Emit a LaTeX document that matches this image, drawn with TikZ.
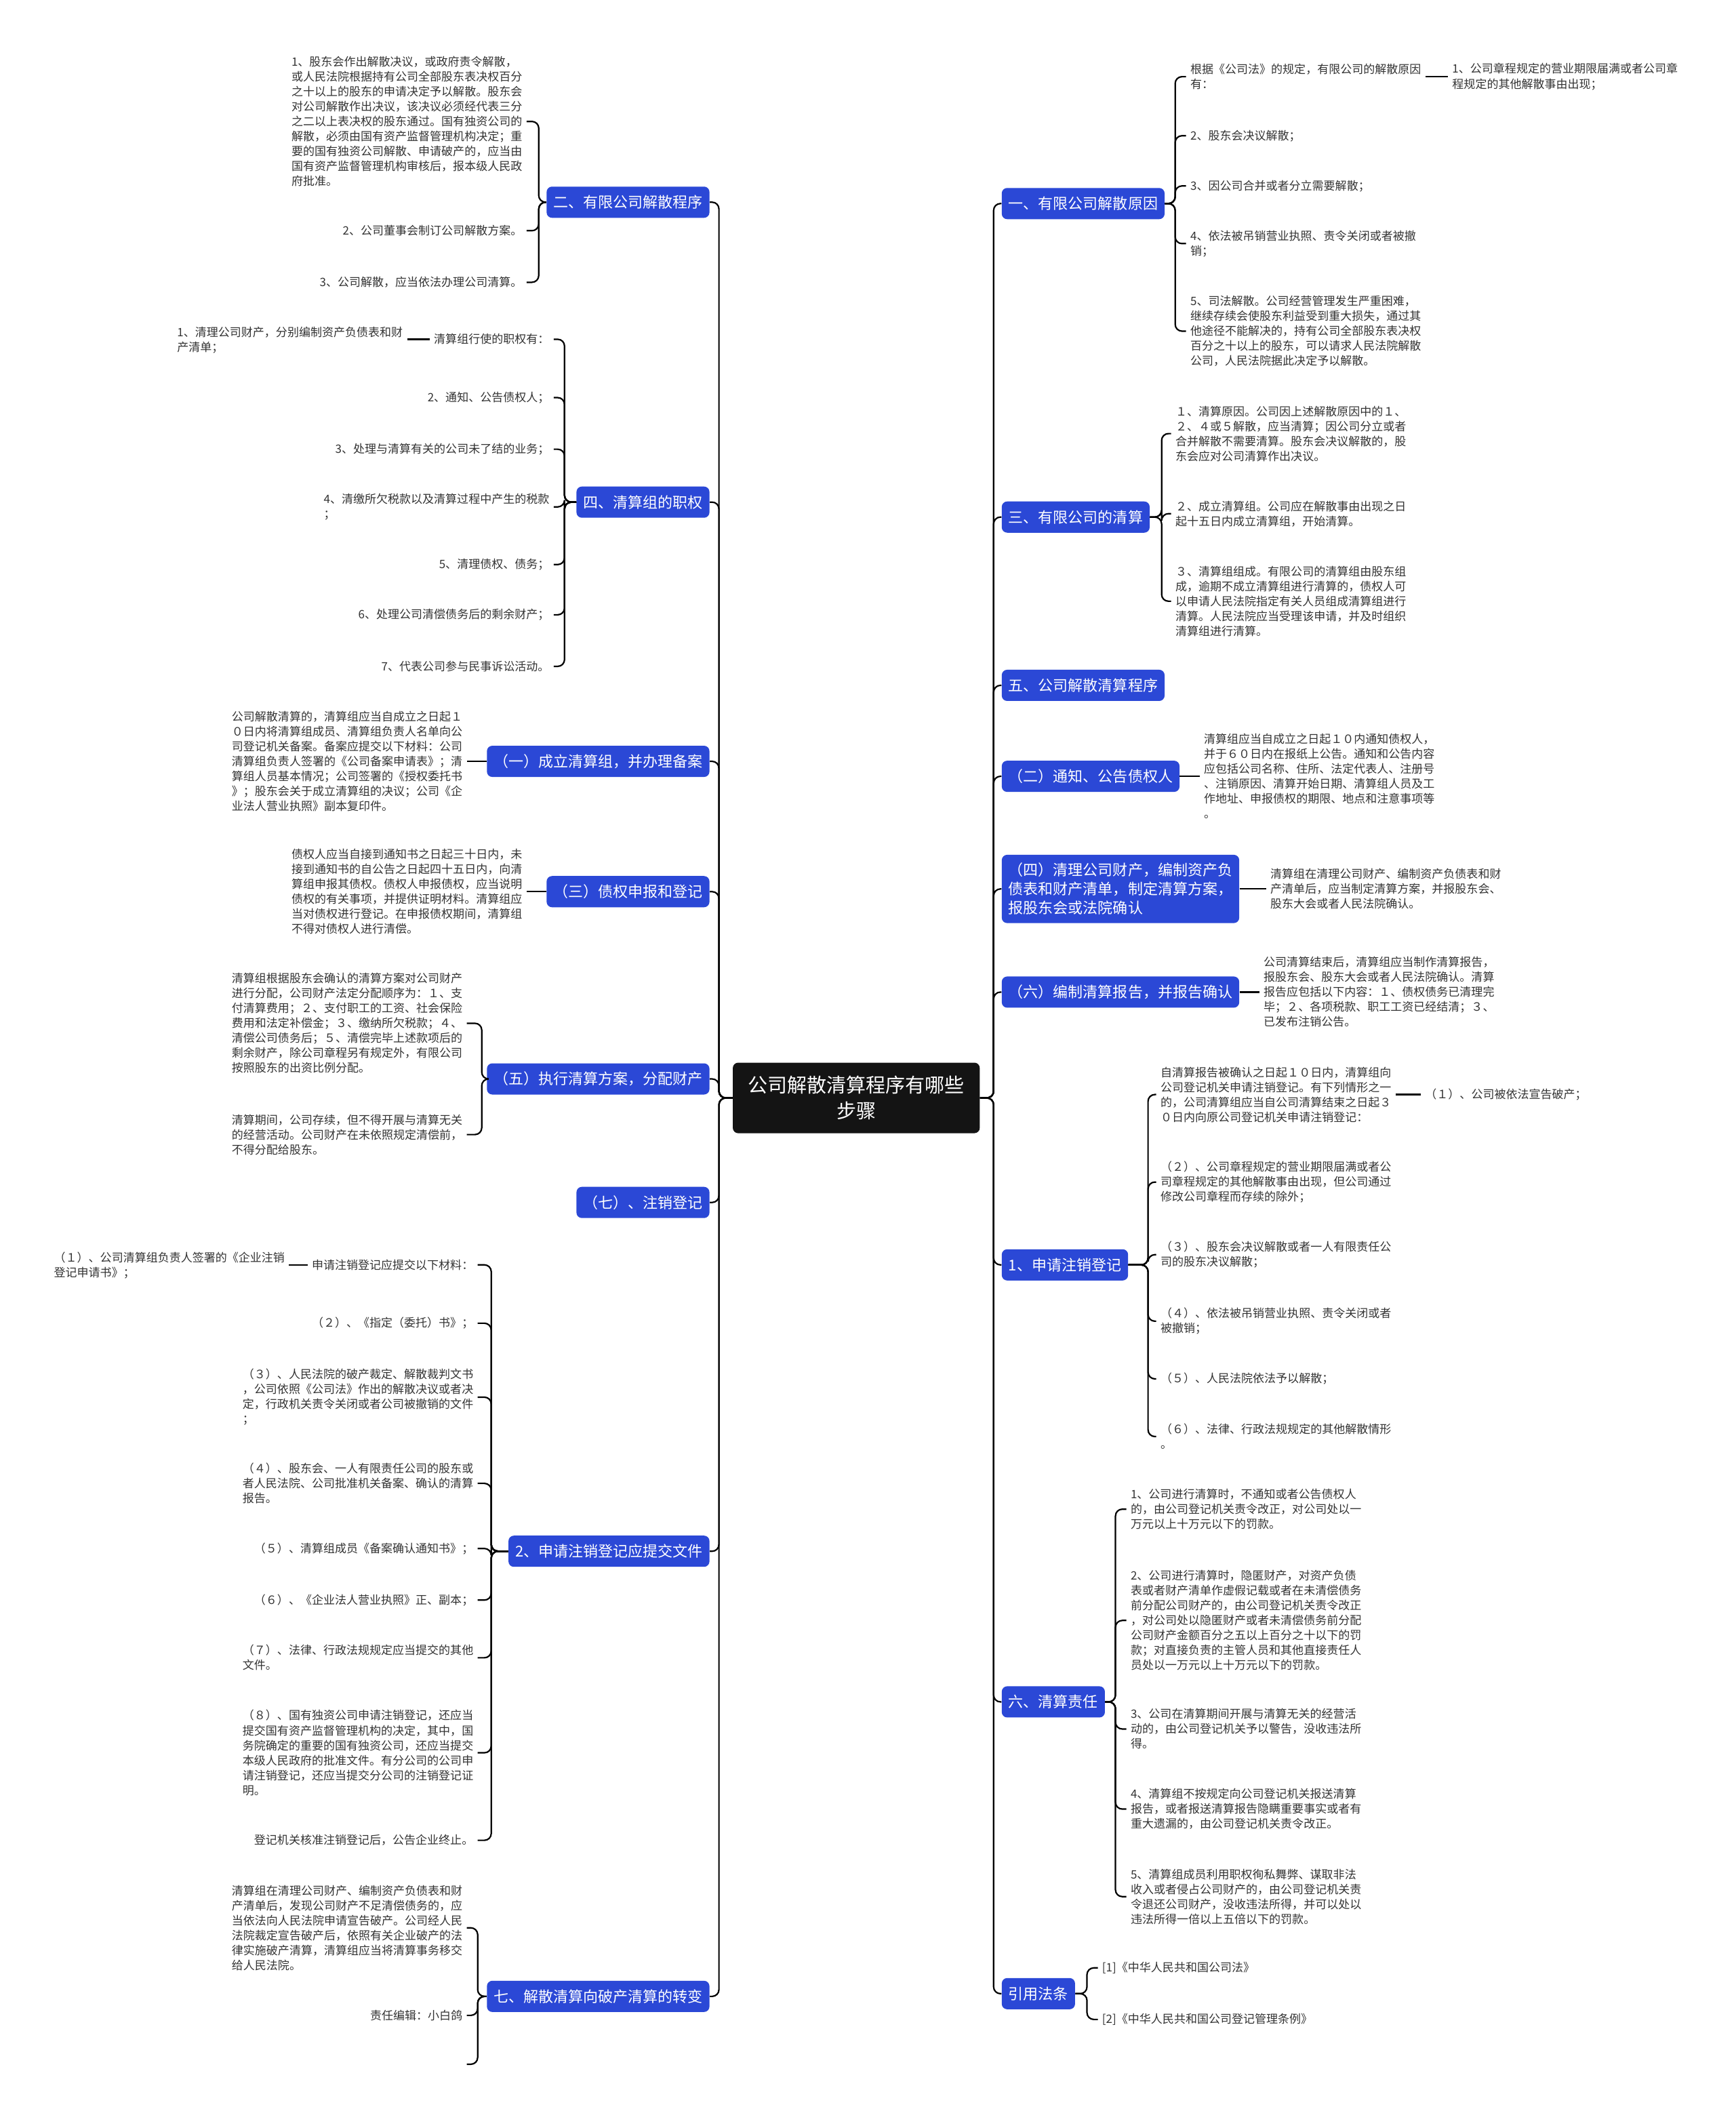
\documentclass[tikz,border=0pt]{standalone}
\usepackage{fontspec}
\setmainfont{Noto Sans CJK SC}
\definecolor{nodeblue}{RGB}{43,72,214}
\definecolor{txt}{RGB}{51,51,51}
\tikzset{
  conn/.style={draw=black, line width=1.1pt, rounded corners=5pt},
  lvlone/.style={fill=nodeblue, rounded corners=4pt, text=white, font=\fontsize{11}{14}\selectfont, inner xsep=5pt, inner ysep=4pt, minimum height=23pt, align=left},
  leaf/.style={font=\fontsize{8.5}{11}\selectfont, align=left, inner sep=3pt, text=txt},
  rootbox/.style={fill=black!92, rounded corners=4pt, text=white, font=\fontsize{14.5}{19}\selectfont, align=center, minimum width=182pt, minimum height=52pt},
}
\newcommand\mmL[3]{\draw[conn] (#1.west) -- (#1.west -| #3,0) |- (#2.east);}
\newcommand\mmR[3]{\draw[conn] (#1.east) -- (#1.east -| #3,0) |- (#2.west);}
\newcommand\mmLs[2]{\draw[conn] (#1.west) -- (#1.west -| #2.east);}
\newcommand\mmRs[2]{\draw[conn] (#1.east) -- (#1.east -| #2.west);}
\begin{document}
\begin{tikzpicture}[x=1pt,y=-1pt]
\fill[white] (0,0) rectangle (1279,1568);
\useasboundingbox (0,0) rectangle (1279,1568);

% root
\node[rootbox] (C) at (631,809) {公司解散清算程序有哪些\\步骤};

% left level one
\node[lvlone, anchor=east] (L1) at (523,149) {二、有限公司解散程序};
\node[lvlone, anchor=east] (L2) at (523,370) {四、清算组的职权};
\node[lvlone, anchor=east] (L3) at (523,561) {（一）成立清算组，并办理备案};
\node[lvlone, anchor=east] (L4) at (523,657) {（三）债权申报和登记};
\node[lvlone, anchor=east] (L5) at (523,795) {（五）执行清算方案，分配财产};
\node[lvlone, anchor=east] (L6) at (523,886) {（七）、注销登记};
\node[lvlone, anchor=east] (L7) at (523,1143) {2、申请注销登记应提交文件};
\node[lvlone, anchor=east] (L8) at (523,1471) {七、解散清算向破产清算的转变};

% right level one
\node[lvlone, anchor=west] (R1) at (738,150) {一、有限公司解散原因};
\node[lvlone, anchor=west] (R2) at (738,381) {三、有限公司的清算};
\node[lvlone, anchor=west] (R3) at (738,505) {五、公司解散清算程序};
\node[lvlone, anchor=west] (R4) at (738,572) {（二）通知、公告债权人};
\node[lvlone, anchor=west, inner ysep=6pt] (R5) at (738,655) {（四）清理公司财产，编制资产负\\债表和财产清单，制定清算方案，\\报股东会或法院确认};
\node[lvlone, anchor=west] (R6) at (738,731) {（六）编制清算报告，并报告确认};
\node[lvlone, anchor=west] (R7) at (738,932) {1、申请注销登记};
\node[lvlone, anchor=west] (R8) at (738,1254) {六、清算责任};
\node[lvlone, anchor=west] (R9) at (738,1469) {引用法条};

\foreach \n in {L1,L2,L3,L4,L5,L6,L7,L8} {\draw[conn] (C.west) -- ++(-10,0) |- (\n.east);}
\foreach \n in {R1,R2,R3,R4,R5,R6,R7,R8,R9} {\draw[conn] (C.east) -- ++(10,0) |- (\n.west);}

% ---------- L1 children
\node[leaf, anchor=east] (L1a) at (388,89.5) {1、股东会作出解散决议，或政府责令解散，\\或人民法院根据持有公司全部股东表决权百分\\之十以上的股东的申请决定予以解散。股东会\\对公司解散作出决议，该决议必须经代表三分\\之二以上表决权的股东通过。国有独资公司的\\解散，必须由国有资产监督管理机构决定；重\\要的国有独资公司解散、申请破产的，应当由\\国有资产监督管理机构审核后，报本级人民政\\府批准。};
\node[leaf, anchor=east] (L1b) at (388,170) {2、公司董事会制订公司解散方案。};
\node[leaf, anchor=east] (L1c) at (388,208) {3、公司解散，应当依法办理公司清算。};
\foreach \c in {L1a,L1b,L1c} {\mmL{L1}{\c}{397}}

% ---------- L2 children
\node[leaf, anchor=east] (L2a) at (408,250) {清算组行使的职权有：};
\node[leaf, anchor=east] (L2a1) at (300,250.5) {1、清理公司财产，分别编制资产负债表和财\\产清单；};
\node[leaf, anchor=east] (L2b) at (408,293) {2、通知、公告债权人；};
\node[leaf, anchor=east] (L2c) at (408,331) {3、处理与清算有关的公司未了结的业务；};
\node[leaf, anchor=east] (L2d) at (408,373.5) {4、清缴所欠税款以及清算过程中产生的税款\\；};
\node[leaf, anchor=east] (L2e) at (408,416) {5、清理债权、债务；};
\node[leaf, anchor=east] (L2f) at (408,453) {6、处理公司清偿债务后的剩余财产；};
\node[leaf, anchor=east] (L2g) at (408,491) {7、代表公司参与民事诉讼活动。};
\foreach \c in {L2a,L2b,L2c,L2d,L2e,L2f,L2g} {\mmL{L2}{\c}{416}}
\mmLs{L2a}{L2a1}

% ---------- L3, L4
\node[leaf, anchor=east] (L3a) at (344,561) {公司解散清算的，清算组应当自成立之日起１\\０日内将清算组成员、清算组负责人名单向公\\司登记机关备案。备案应提交以下材料：公司\\清算组负责人签署的《公司备案申请表》；清\\算组人员基本情况；公司签署的《授权委托书\\》；股东会关于成立清算组的决议；公司《企\\业法人营业执照》副本复印件。};
\mmLs{L3}{L3a}
\node[leaf, anchor=east] (L4a) at (388,657) {债权人应当自接到通知书之日起三十日内，未\\接到通知书的自公告之日起四十五日内，向清\\算组申报其债权。债权人申报债权，应当说明\\债权的有关事项，并提供证明材料。清算组应\\当对债权进行登记。在申报债权期间，清算组\\不得对债权人进行清偿。};
\mmLs{L4}{L4a}

% ---------- L5
\node[leaf, anchor=east] (L5a) at (344,754) {清算组根据股东会确认的清算方案对公司财产\\进行分配，公司财产法定分配顺序为：１、支\\付清算费用；２、支付职工的工资、社会保险\\费用和法定补偿金；３、缴纳所欠税款；４、\\清偿公司债务后；５、清偿完毕上述款项后的\\剩余财产，除公司章程另有规定外，有限公司\\按照股东的出资比例分配。};
\node[leaf, anchor=east] (L5b) at (344,836) {清算期间，公司存续，但不得开展与清算无关\\的经营活动。公司财产在未依照规定清偿前，\\不得分配给股东。};
\foreach \c in {L5a,L5b} {\mmL{L5}{\c}{355}}

% ---------- L7
\node[leaf, anchor=east] (L7a) at (352,932) {申请注销登记应提交以下材料：};
\node[leaf, anchor=east] (L7a1) at (213,932.5) {（１）、公司清算组负责人签署的《企业注销\\登记申请书》；};
\node[leaf, anchor=east] (L7b) at (352,975) {（２）、《指定（委托）书》；};
\node[leaf, anchor=east] (L7c) at (352,1029.5) {（３）、人民法院的破产裁定、解散裁判文书\\，公司依照《公司法》作出的解散决议或者决\\定，行政机关责令关闭或者公司被撤销的文件\\；};
\node[leaf, anchor=east] (L7d) at (352,1093) {（４）、股东会、一人有限责任公司的股东或\\者人民法院、公司批准机关备案、确认的清算\\报告。};
\node[leaf, anchor=east] (L7e) at (352,1141) {（５）、清算组成员《备案确认通知书》；};
\node[leaf, anchor=east] (L7f) at (352,1179) {（６）、《企业法人营业执照》正、副本；};
\node[leaf, anchor=east] (L7g) at (352,1221.5) {（７）、法律、行政法规规定应当提交的其他\\文件。};
\node[leaf, anchor=east] (L7h) at (352,1291.5) {（８）、国有独资公司申请注销登记，还应当\\提交国有资产监督管理机构的决定，其中，国\\务院确定的重要的国有独资公司，还应当提交\\本级人民政府的批准文件。有分公司的公司申\\请注销登记，还应当提交分公司的注销登记证\\明。};
\node[leaf, anchor=east] (L7i) at (352,1356) {登记机关核准注销登记后，公告企业终止。};
\foreach \c in {L7a,L7b,L7c,L7d,L7e,L7f,L7g,L7h,L7i} {\mmL{L7}{\c}{362}}
\mmLs{L7a}{L7a1}

% ---------- L8
\node[leaf, anchor=east] (L8a) at (344,1420.5) {清算组在清理公司财产、编制资产负债表和财\\产清单后，发现公司财产不足清偿债务的，应\\当依法向人民法院申请宣告破产。公司经人民\\法院裁定宣告破产后，依照有关企业破产的法\\律实施破产清算，清算组应当将清算事务移交\\给人民法院。};
\node[leaf, anchor=east] (L8b) at (344,1485) {责任编辑：小白鸽};
\coordinate (L8e) at (344,1521);
\foreach \c in {L8a,L8b} {\mmL{L8}{\c}{352}}
\draw[conn] (L8.west) -- (L8.west -| 352,0) |- (L8e);

% ---------- R1
\node[leaf, anchor=west] (R1a) at (874,56.5) {根据《公司法》的规定，有限公司的解散原因\\有：};
\node[leaf, anchor=west] (R1a1) at (1067,56.5) {1、公司章程规定的营业期限届满或者公司章\\程规定的其他解散事由出现；};
\node[leaf, anchor=west] (R1b) at (874,100) {2、股东会决议解散；};
\node[leaf, anchor=west] (R1c) at (874,137) {3、因公司合并或者分立需要解散；};
\node[leaf, anchor=west] (R1d) at (874,179.5) {4、依法被吊销营业执照、责令关闭或者被撤\\销；};
\node[leaf, anchor=west] (R1e) at (874,244) {5、司法解散。公司经营管理发生严重困难，\\继续存续会使股东利益受到重大损失，通过其\\他途径不能解决的，持有公司全部股东表决权\\百分之十以上的股东，可以请求人民法院解散\\公司，人民法院据此决定予以解散。};
\foreach \c in {R1a,R1b,R1c,R1d,R1e} {\mmR{R1}{\c}{866}}
\mmRs{R1a}{R1a1}

% ---------- R2
\node[leaf, anchor=west] (R2a) at (863,319.5) {１、清算原因。公司因上述解散原因中的１、\\２、４或５解散，应当清算；因公司分立或者\\合并解散不需要清算。股东会决议解散的，股\\东会应对公司清算作出决议。};
\node[leaf, anchor=west] (R2b) at (863,378.5) {２、成立清算组。公司应在解散事由出现之日\\起十五日内成立清算组，开始清算。};
\node[leaf, anchor=west] (R2c) at (863,443) {３、清算组组成。有限公司的清算组由股东组\\成，逾期不成立清算组进行清算的，债权人可\\以申请人民法院指定有关人员组成清算组进行\\清算。人民法院应当受理该申请，并及时组织\\清算组进行清算。};
\foreach \c in {R2a,R2b,R2c} {\mmR{R2}{\c}{856}}

% ---------- R4, R5, R6
\node[leaf, anchor=west] (R4a) at (884,572) {清算组应当自成立之日起１０内通知债权人，\\并于６０日内在报纸上公告。通知和公告内容\\应包括公司名称、住所、法定代表人、注册号\\、注销原因、清算开始日期、清算组人员及工\\作地址、申报债权的期限、地点和注意事项等\\。};
\mmRs{R4}{R4a}
\node[leaf, anchor=west] (R5a) at (933,655) {清算组在清理公司财产、编制资产负债表和财\\产清单后，应当制定清算方案，并报股东会、\\股东大会或者人民法院确认。};
\mmRs{R5}{R5a}
\node[leaf, anchor=west] (R6a) at (928,731) {公司清算结束后，清算组应当制作清算报告，\\报股东会、股东大会或者人民法院确认。清算\\报告应包括以下内容：１、债权债务已清理完\\毕；２、各项税款、职工工资已经结清；３、\\已发布注销公告。};
\mmRs{R6}{R6a}

% ---------- R7
\node[leaf, anchor=west] (R7a) at (852,806.5) {自清算报告被确认之日起１０日内，清算组向\\公司登记机关申请注销登记。有下列情形之一\\的，公司清算组应当自公司清算结束之日起３\\０日内向原公司登记机关申请注销登记：};
\node[leaf, anchor=west] (R7a1) at (1047,806.5) {（１）、公司被依法宣告破产；};
\node[leaf, anchor=west] (R7b) at (852,871) {（２）、公司章程规定的营业期限届满或者公\\司章程规定的其他解散事由出现，但公司通过\\修改公司章程而存续的除外；};
\node[leaf, anchor=west] (R7c) at (852,924.5) {（３）、股东会决议解散或者一人有限责任公\\司的股东决议解散；};
\node[leaf, anchor=west] (R7d) at (852,973.5) {（４）、依法被吊销营业执照、责令关闭或者\\被撤销；};
\node[leaf, anchor=west] (R7e) at (852,1016) {（５）、人民法院依法予以解散；};
\node[leaf, anchor=west] (R7f) at (852,1058.5) {（６）、法律、行政法规规定的其他解散情形\\。};
\foreach \c in {R7a,R7b,R7c,R7d,R7e,R7f} {\mmR{R7}{\c}{846}}
\mmRs{R7a}{R7a1}

% ---------- R8
\node[leaf, anchor=west] (R8a) at (830,1112) {1、公司进行清算时，不通知或者公告债权人\\的，由公司登记机关责令改正，对公司处以一\\万元以上十万元以下的罚款。};
\node[leaf, anchor=west] (R8b) at (830,1194) {2、公司进行清算时，隐匿财产，对资产负债\\表或者财产清单作虚假记载或者在未清偿债务\\前分配公司财产的，由公司登记机关责令改正\\，对公司处以隐匿财产或者未清偿债务前分配\\公司财产金额百分之五以上百分之十以下的罚\\款；对直接负责的主管人员和其他直接责任人\\员处以一万元以上十万元以下的罚款。};
\node[leaf, anchor=west] (R8c) at (830,1274) {3、公司在清算期间开展与清算无关的经营活\\动的，由公司登记机关予以警告，没收违法所\\得。};
\node[leaf, anchor=west] (R8d) at (830,1333) {4、清算组不按规定向公司登记机关报送清算\\报告，或者报送清算报告隐瞒重要事实或者有\\重大遗漏的，由公司登记机关责令改正。};
\node[leaf, anchor=west] (R8e) at (830,1397.5) {5、清算组成员利用职权徇私舞弊、谋取非法\\收入或者侵占公司财产的，由公司登记机关责\\令退还公司财产，没收违法所得，并可以处以\\违法所得一倍以上五倍以下的罚款。};
\foreach \c in {R8a,R8b,R8c,R8d,R8e} {\mmR{R8}{\c}{822}}

% ---------- R9
\node[leaf, anchor=west] (R9a) at (809,1450) {[1]《中华人民共和国公司法》};
\node[leaf, anchor=west] (R9b) at (809,1488) {[2]《中华人民共和国公司登记管理条例》};
\foreach \c in {R9a,R9b} {\mmR{R9}{\c}{801}}
\end{tikzpicture}
\end{document}
